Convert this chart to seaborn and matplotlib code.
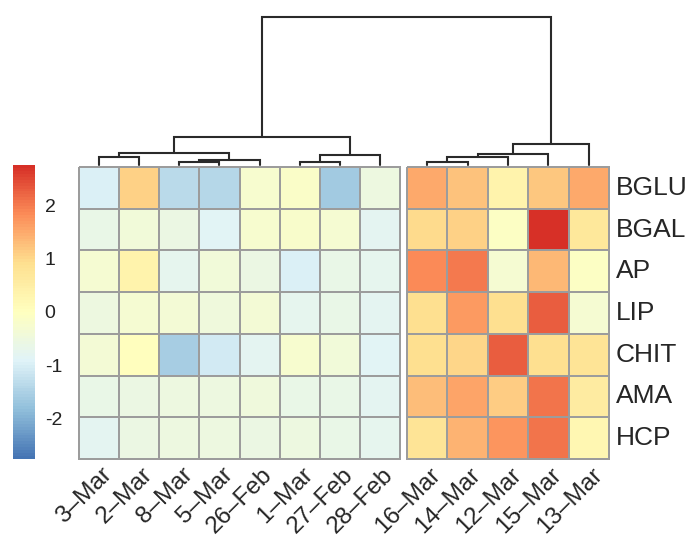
import numpy as np
import pandas as pd
import matplotlib
matplotlib.use("Agg")
import matplotlib.pyplot as plt
import matplotlib.transforms as mtrans
import seaborn as sns
from matplotlib.colors import LinearSegmentedColormap
from matplotlib.cm import ScalarMappable
from matplotlib.colors import Normalize

# ---------------- data ----------------
rows = ["BGLU", "BGAL", "AP", "LIP", "CHIT", "AMA", "HCP"]
cols_a = ["3–Mar", "2–Mar", "8–Mar", "5–Mar", "26–Feb", "1–Mar", "27–Feb", "28–Feb"]
cols_b = ["16–Mar", "14–Mar", "12–Mar", "15–Mar", "13–Mar"]

vals_a = [
    [-0.95, 1.05, -1.35, -1.40, -0.25, -0.15, -1.60, -0.50],
    [-0.65, -0.40, -0.60, -0.85, -0.25, -0.20, -0.30, -0.80],
    [-0.30, 0.35, -0.75, -0.40, -0.60, -0.95, -0.65, -0.75],
    [-0.50, -0.30, -0.35, -0.45, -0.35, -0.75, -0.65, -0.80],
    [-0.35, 0.05, -1.55, -1.10, -0.80, -0.25, -0.40, -0.85],
    [-0.65, -0.60, -0.55, -0.50, -0.45, -0.65, -0.65, -0.80],
    [-0.80, -0.60, -0.50, -0.50, -0.60, -0.50, -0.65, -0.75],
]
vals_b = [
    [1.50, 1.25, 0.35, 1.20, 1.50],
    [0.95, 1.05, -0.10, 2.75, 0.70],
    [1.85, 2.00, -0.30, 1.35, -0.10],
    [0.90, 1.70, 0.90, 2.30, -0.30],
    [0.90, 1.00, 2.30, 0.90, 0.80],
    [1.30, 1.55, 1.10, 2.05, 0.55],
    [0.80, 1.40, 1.75, 2.05, 0.25],
]

# column dendrogram: (left, right, merge height)
col_tree = (
    (
        (("3–Mar", "2–Mar", 8), (("8–Mar", "5–Mar", 3), "26–Feb", 5), 12),
        (("1–Mar", "27–Feb", 3), "28–Feb", 10),
        28,
    ),
    (((("16–Mar", "14–Mar", 3), "12–Mar", 8), "15–Mar", 11), "13–Mar", 21),
    148,
)

legend_ticks = [-2, -1, 0, 1, 2]
legend_labels = ["-2", "-1", "0", "1", "2"]

# ---------------- style ----------------
sns.set_style("white")
plt.rcParams["font.family"] = ["Liberation Sans", "DejaVu Sans"]
plt.rcParams["text.color"] = "#111111"

W, H = 692, 543
fig = plt.figure(figsize=(W / 100, H / 100), dpi=100)


def box(x0, y0, x1, y1):
    return [x0 / W, 1 - y1 / H, (x1 - x0) / W, (y1 - y0) / H]


pal = ["#4575B4", "#91BFDB", "#E0F3F8", "#FFFFBF", "#FEE090", "#FC8D59", "#D73027"]
cmap = LinearSegmentedColormap.from_list("rdylbu_r", pal, N=100)
vmax = max(np.abs(np.array(vals_a)).max(), np.abs(np.array(vals_b)).max())
vmin = -vmax

df_a = pd.DataFrame(vals_a, index=rows, columns=cols_a)
df_b = pd.DataFrame(vals_b, index=rows, columns=cols_b)

ax_a = fig.add_axes(box(79, 167, 400, 459))
ax_b = fig.add_axes(box(407, 167, 609, 459))
ax_d = fig.add_axes(box(79, 15, 609, 165))
ax_c = fig.add_axes(box(13, 165, 35, 459))

common = dict(cmap=cmap, vmin=vmin, vmax=vmax, cbar=False,
              linewidths=1.4, linecolor="#9c9c9c")
sns.heatmap(df_a, ax=ax_a, yticklabels=False, xticklabels=True, **common)
sns.heatmap(df_b, ax=ax_b, yticklabels=True, xticklabels=True, **common)
shift = mtrans.ScaledTranslation(2 / 100, 0, fig.dpi_scale_trans)
for ax in (ax_a, ax_b):
    ax.collections[0].set_clip_on(False)
    ax.set_xlabel("")
    ax.set_ylabel("")
    ax.tick_params(length=0)
    for lab in ax.get_xticklabels():
        lab.set_rotation(45)
        lab.set_ha("right")
        lab.set_va("top")
        lab.set_rotation_mode("anchor")
        lab.set_fontsize(17.5)
        lab.set_transform(lab.get_transform() + shift)
    for s in ax.spines.values():
        s.set_visible(False)

ax_b.yaxis.tick_right()
ax_b.tick_params(axis="y", pad=5, length=0)
for lab in ax_b.get_yticklabels():
    lab.set_rotation(0)
    lab.set_fontsize(19)
    lab.set_va("center")

# ---------------- dendrogram ----------------
to_fig = fig.transFigure.inverted()
leaf_x = {}
for ax, cols in ((ax_a, cols_a), (ax_b, cols_b)):
    for i, c in enumerate(cols):
        fx, _ = to_fig.transform(ax.transData.transform((i + 0.5, 0)))
        leaf_x[c] = fx

d_pos = ax_d.get_position()
ax_d.set_xlim(d_pos.x0, d_pos.x1)
ax_d.set_ylim(0, 150)
ax_d.axis("off")


def draw(node):
    if isinstance(node, str):
        return leaf_x[node], 0
    l, r, h = node
    xl, hl = draw(l)
    xr, hr = draw(r)
    ax_d.plot([xl, xl, xr, xr], [hl, h, h, hr], color="#2a2a2a", lw=1.5,
              solid_joinstyle="miter", clip_on=False)
    return (xl + xr) / 2, h


draw(col_tree)

# ---------------- legend ----------------
sm = ScalarMappable(norm=Normalize(vmin=vmin, vmax=vmax), cmap=cmap)
cb = fig.colorbar(sm, cax=ax_c)
cb.outline.set_visible(False)
cb.set_ticks(legend_ticks)
cb.set_ticklabels(legend_labels)
ax_c.tick_params(length=0, pad=7, labelsize=14, labelcolor="#222222")

fig.savefig("out.png", dpi=100)
